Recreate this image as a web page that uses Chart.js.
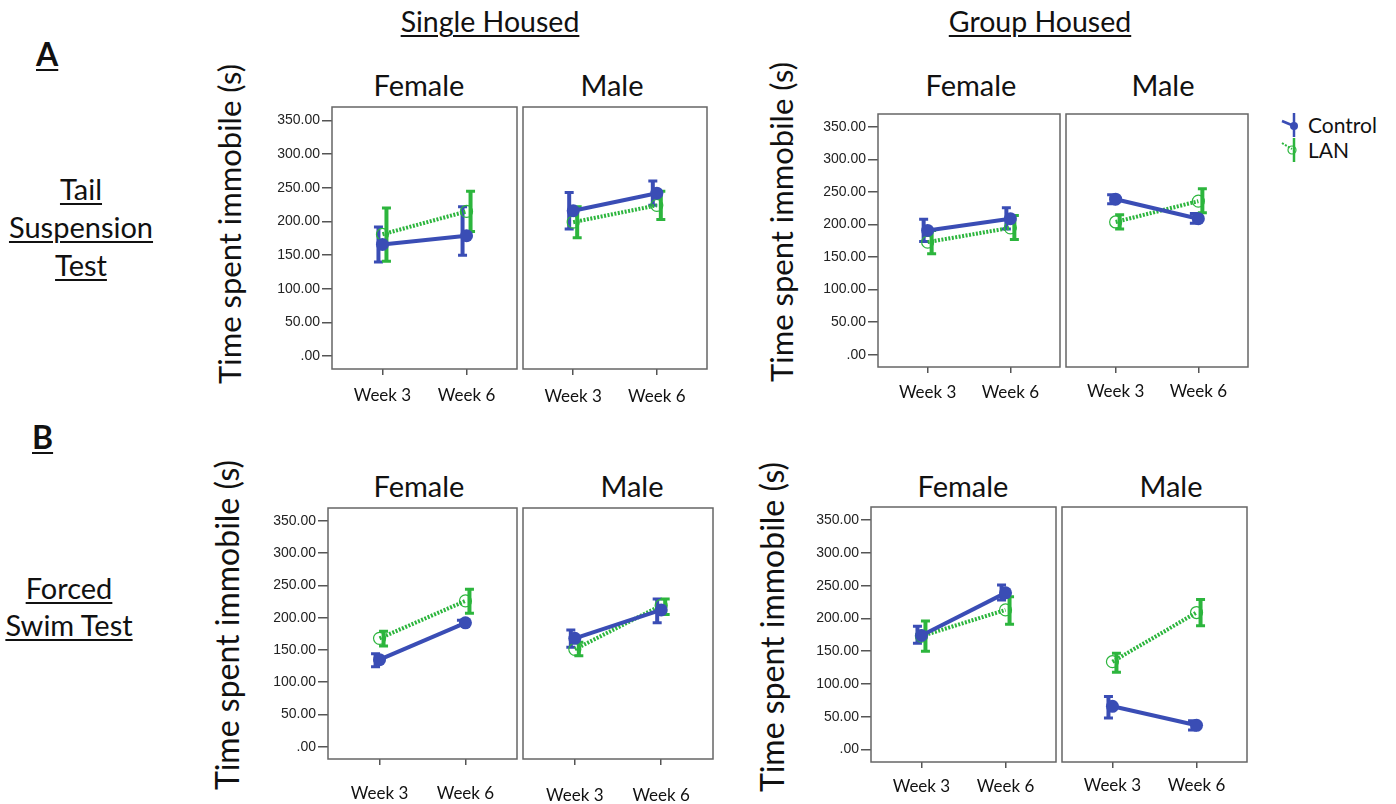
<!DOCTYPE html>
<html>
<head>
<meta charset="utf-8">
<script src="https://cdn.jsdelivr.net/npm/chart.js@4.4.1/dist/chart.umd.min.js"></script>
<style>
  body { margin: 0; background: #fff; width: 1396px; height: 804px; position: relative; overflow: hidden; font-family: Lato, "Open Sans", sans-serif; color: #111; }
  .t { position: absolute; white-space: nowrap; line-height: 1; }
  .c { transform: translateX(-50%); text-align: center; }
  .u { text-decoration: underline; text-decoration-thickness: 2px; text-underline-offset: 3px; }
  .rot { transform: translate(-50%, -50%) rotate(-90deg); }
  canvas { position: absolute; }
</style>
</head>
<body>
<div class="t u" style="left:36px; top:38px; font-size:32px; font-weight:700;">A</div>
<div class="t u" style="left:32px; top:421px; font-size:32px; font-weight:700;">B</div>

<div class="t c u" style="left:490px; top:7px; font-size:28.5px;">Single Housed</div>
<div class="t c u" style="left:1040px; top:7px; font-size:28.5px;">Group Housed</div>

<div class="t c" style="left:419px; top:70px; font-size:29px;">Female</div>
<div class="t c" style="left:612px; top:70px; font-size:29px;">Male</div>
<div class="t c" style="left:971px; top:70px; font-size:29px;">Female</div>
<div class="t c" style="left:1163px; top:70px; font-size:29px;">Male</div>
<div class="t c" style="left:419px; top:471px; font-size:29px;">Female</div>
<div class="t c" style="left:632px; top:471px; font-size:29px;">Male</div>
<div class="t c" style="left:963px; top:471px; font-size:29px;">Female</div>
<div class="t c" style="left:1171px; top:471px; font-size:29px;">Male</div>

<div class="t c u" style="left:81px; top:170px; font-size:29px; line-height:38px;">Tail<br>Suspension<br>Test</div>
<div class="t c u" style="left:69px; top:569px; font-size:29px; line-height:37px;">Forced<br>Swim Test</div>

<div class="t rot" style="left:229px; top:224px; font-size:31px;">Time spent immobile (s)</div>
<div class="t rot" style="left:781px; top:222px; font-size:31px;">Time spent immobile (s)</div>
<div class="t rot" style="left:227px; top:625px; font-size:32px;">Time spent immobile (s)</div>
<div class="t rot" style="left:772px; top:627px; font-size:32px;">Time spent immobile (s)</div>

<div class="t" style="left:1281px; top:112px;">
  <svg width="18" height="26"><line x1="13" y1="1" x2="13" y2="25" stroke="#3a4db5" stroke-width="2.5"/><line x1="1" y1="9" x2="13" y2="14" stroke="#3a4db5" stroke-width="2.5"/><circle cx="13" cy="14" r="4" fill="#3a4db5"/></svg>
</div>
<div class="t" style="left:1308px; top:114px; font-size:21px;">Control</div>
<div class="t" style="left:1281px; top:137px;">
  <svg width="18" height="26"><line x1="13" y1="1" x2="13" y2="25" stroke="#2cb53d" stroke-width="2.5"/><line x1="1" y1="6" x2="11" y2="12" stroke="#2cb53d" stroke-width="2" stroke-dasharray="2,1.5"/><circle cx="11" cy="13" r="4" fill="none" stroke="#2cb53d" stroke-width="1.2"/></svg>
</div>
<div class="t" style="left:1308px; top:139px; font-size:21px;">LAN</div>

<script>
const categories = ['Week 3', 'Week 6'];
const yTickValues = [0, 50, 100, 150, 200, 250, 300, 350];
const seriesNames = ['Control', 'LAN'];

// Tail suspension test (A), error bars as [low, high]
const tstSingleFemaleControl = [166, 179];
const tstSingleFemaleControlErr = [[140, 192], [150, 222]];
const tstSingleFemaleLan = [181, 215];
const tstSingleFemaleLanErr = [[141, 220], [185, 245]];

const tstSingleMaleControl = [216, 242];
const tstSingleMaleControlErr = [[189, 243], [224, 260]];
const tstSingleMaleLan = [199, 224];
const tstSingleMaleLanErr = [[176, 222], [203, 245]];

const tstGroupFemaleControl = [191, 209];
const tstGroupFemaleControlErr = [[174, 208], [193, 226]];
const tstGroupFemaleLan = [173, 195];
const tstGroupFemaleLanErr = [[155, 191], [177, 214]];

const tstGroupMaleControl = [239, 209];
const tstGroupMaleControlErr = [[232, 246], [202, 217]];
const tstGroupMaleLan = [204, 236];
const tstGroupMaleLanErr = [[193, 215], [218, 255]];

// Forced swim test (B)
const fstSingleFemaleControl = [135, 192];
const fstSingleFemaleControlErr = [[124, 144], [188, 196]];
const fstSingleFemaleLan = [168, 226];
const fstSingleFemaleLanErr = [[156, 179], [207, 244]];

const fstSingleMaleControl = [168, 212];
const fstSingleMaleControlErr = [[154, 181], [192, 229]];
const fstSingleMaleLan = [151, 219];
const fstSingleMaleLanErr = [[141, 162], [205, 229]];

const fstGroupFemaleControl = [174, 239];
const fstGroupFemaleControlErr = [[162, 188], [228, 251]];
const fstGroupFemaleLan = [173, 213];
const fstGroupFemaleLanErr = [[150, 196], [191, 233]];

const fstGroupMaleControl = [66, 37];
const fstGroupMaleControlErr = [[48, 81], [30, 44]];
const fstGroupMaleLan = [134, 209];
const fstGroupMaleLanErr = [[118, 147], [189, 229]];

const BLUE = '#3a4db5';
const GREEN = '#2cb53d';
const PAD_TOP = 12;
const X_AXIS_H = 50;

// box = [left, top, right, bottom] of the framed plot area
const panels = [
  { box: [332, 107, 517, 369], showY: true,  xPad: 10, ctrl: tstSingleFemaleControl, ctrlErr: tstSingleFemaleControlErr, lan: tstSingleFemaleLan, lanErr: tstSingleFemaleLanErr },
  { box: [523, 107, 707, 369], showY: false, xPad: 11, ctrl: tstSingleMaleControl, ctrlErr: tstSingleMaleControlErr, lan: tstSingleMaleLan, lanErr: tstSingleMaleLanErr },
  { box: [878, 114, 1060, 367], showY: true, xPad: 9, ctrl: tstGroupFemaleControl, ctrlErr: tstGroupFemaleControlErr, lan: tstGroupFemaleLan, lanErr: tstGroupFemaleLanErr },
  { box: [1066, 114, 1248, 367], showY: false, xPad: 8, ctrl: tstGroupMaleControl, ctrlErr: tstGroupMaleControlErr, lan: tstGroupMaleLan, lanErr: tstGroupMaleLanErr },
  { box: [328, 508, 517, 759], showY: true,  xPad: 18, ctrl: fstSingleFemaleControl, ctrlErr: fstSingleFemaleControlErr, lan: fstSingleFemaleLan, lanErr: fstSingleFemaleLanErr },
  { box: [523, 508, 713, 759], showY: false, xPad: 20, ctrl: fstSingleMaleControl, ctrlErr: fstSingleMaleControlErr, lan: fstSingleMaleLan, lanErr: fstSingleMaleLanErr },
  { box: [871, 507, 1056, 762], showY: true, xPad: 8, ctrl: fstGroupFemaleControl, ctrlErr: fstGroupFemaleControlErr, lan: fstGroupFemaleLan, lanErr: fstGroupFemaleLanErr },
  { box: [1062, 507, 1247, 762], showY: false, xPad: 7, ctrl: fstGroupMaleControl, ctrlErr: fstGroupMaleControlErr, lan: fstGroupMaleLan, lanErr: fstGroupMaleLanErr }
];

const frameAndErrors = {
  id: 'frameAndErrors',
  beforeDatasetsDraw(chart) {
    const ctx = chart.ctx;
    const a = chart.chartArea;
    const yScale = chart.scales.y;
    ctx.save();
    ctx.strokeStyle = '#666';
    ctx.lineWidth = 1.5;
    ctx.strokeRect(a.left, a.top, a.right - a.left, a.bottom - a.top);

    chart.data.datasets.forEach((ds, di) => {
      const meta = chart.getDatasetMeta(di);
      ctx.strokeStyle = ds.borderColor;
      ctx.setLineDash([]);
      ds.errors.forEach((e, i) => {
        const x = meta.data[i].x + ds.errShift;
        const yLo = yScale.getPixelForValue(e[0]);
        const yHi = yScale.getPixelForValue(e[1]);
        ctx.lineWidth = 4;
        ctx.beginPath();
        ctx.moveTo(x, yLo);
        ctx.lineTo(x, yHi);
        ctx.stroke();
        ctx.lineWidth = 3;
        ctx.beginPath();
        ctx.moveTo(x - 4.5, yLo); ctx.lineTo(x + 4.5, yLo);
        ctx.moveTo(x - 4.5, yHi); ctx.lineTo(x + 4.5, yHi);
        ctx.stroke();
      });
    });
    ctx.restore();
  }
};

function makePanel(p) {
  const yW = p.showY ? 80 : 0;
  const padL = p.showY ? 0 : 4;
  const canvas = document.createElement('canvas');
  canvas.width = (p.box[2] - p.box[0]) + yW + padL + 4;
  canvas.height = (p.box[3] - p.box[1]) + PAD_TOP + X_AXIS_H;
  canvas.style.left = (p.box[0] - yW - padL) + 'px';
  canvas.style.top = (p.box[1] - PAD_TOP) + 'px';
  document.body.appendChild(canvas);

  new Chart(canvas, {
    type: 'line',
    data: {
      datasets: [
        {
          label: seriesNames[0],
          data: p.ctrl.map((v, i) => ({ x: i, y: v })),
          errors: p.ctrlErr,
          errShift: -4,
          borderColor: BLUE,
          borderWidth: 4,
          pointRadius: 6.5,
          pointBackgroundColor: BLUE,
          pointBorderWidth: 0,
          clip: false
        },
        {
          label: seriesNames[1],
          data: p.lan.map((v, i) => ({ x: i, y: v })),
          errors: p.lanErr,
          errShift: 4,
          borderColor: GREEN,
          borderWidth: 4,
          borderDash: [2, 1.5],
          pointRadius: 6,
          pointBorderColor: GREEN,
          pointBorderWidth: 1.2,
          pointBackgroundColor: 'rgba(255,255,255,0)',
          clip: false
        }
      ]
    },
    options: {
      responsive: false,
      animation: false,
      devicePixelRatio: 1,
      layout: { autoPadding: false, padding: { top: PAD_TOP, right: 4, left: padL, bottom: 0 } },
      plugins: { legend: { display: false }, tooltip: { enabled: false } },
      scales: {
        x: {
          type: 'linear',
          min: -0.6,
          max: 1.6,
          afterBuildTicks: s => { s.ticks = categories.map((_, i) => ({ value: i })); },
          afterFit: s => { s.height = X_AXIS_H; },
          ticks: {
            callback: v => categories[v],
            font: { family: 'Lato', size: 17 },
            color: '#111',
            padding: p.xPad,
            autoSkip: false,
            maxRotation: 0
          },
          grid: { drawOnChartArea: false, drawTicks: true, tickLength: 6, color: '#555', lineWidth: 1.5 },
          border: { display: false }
        },
        y: {
          display: p.showY,
          min: -19,
          max: 370,
          afterBuildTicks: s => { s.ticks = yTickValues.map(v => ({ value: v })); },
          afterFit: s => { s.width = yW; },
          ticks: {
            callback: v => v === 0 ? '.00' : v.toFixed(2),
            font: { family: '"Liberation Sans", Arial', size: 14 },
            color: '#222',
            padding: 2
          },
          grid: { drawOnChartArea: false, drawTicks: true, tickLength: 10, color: '#555', lineWidth: 1.5 },
          border: { display: false }
        }
      }
    },
    plugins: [frameAndErrors]
  });
}

panels.forEach(makePanel);
</script>
</body>
</html>
